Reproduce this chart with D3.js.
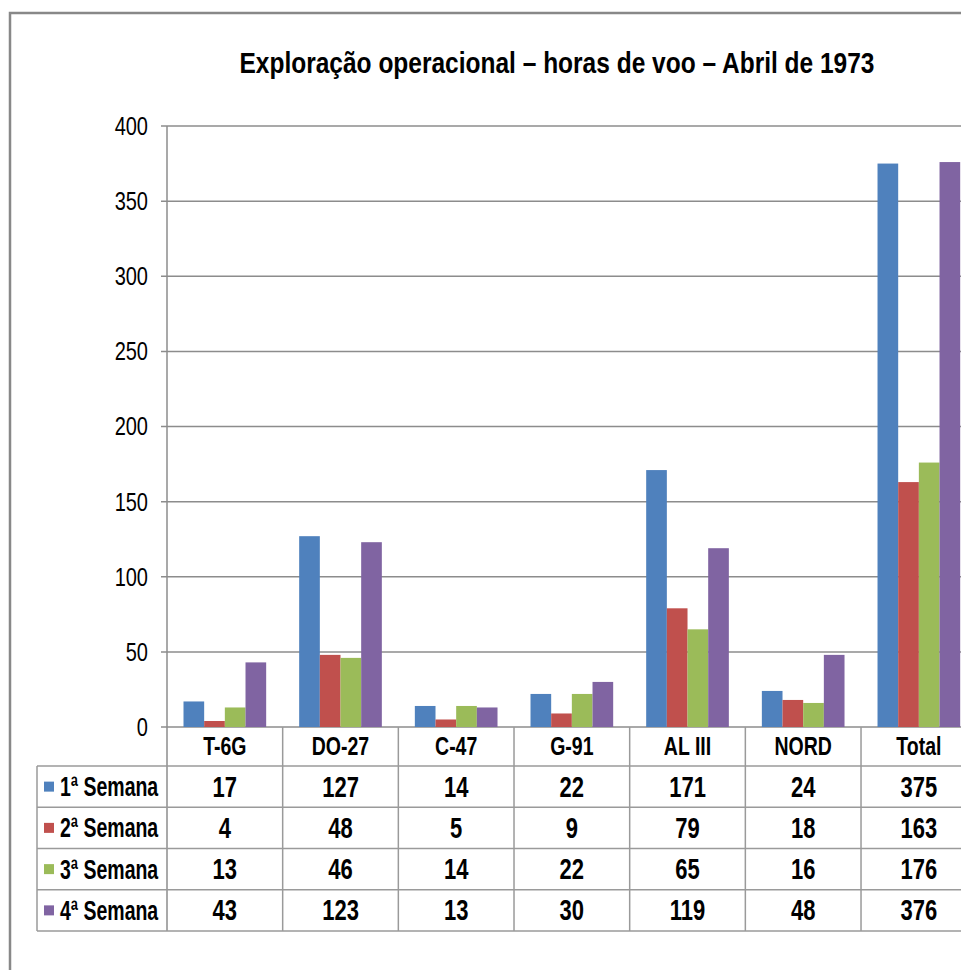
<!DOCTYPE html>
<html>

<head>
    <meta charset="UTF-8">
    <title>Exploração operacional</title>
    <script src="https://d3js.org/d3.v7.min.js"></script>
    <style>
        body { margin: 0; background: #fff; }
        svg text { font-family: "Liberation Sans", Arial, sans-serif; fill: #000; }
    </style>
</head>

<body>
    <div id="chart"></div>
    <script type="text/javascript">
        const categories = ["T-6G", "DO-27", "C-47", "G-91", "AL III", "NORD", "Total"];
        const seriesNames = ["1ª Semana", "2ª Semana", "3ª Semana", "4ª Semana"];
        const semana1 = [17, 127, 14, 22, 171, 24, 375];
        const semana2 = [4, 48, 5, 9, 79, 18, 163];
        const semana3 = [13, 46, 14, 22, 65, 16, 176];
        const semana4 = [43, 123, 13, 30, 119, 48, 376];
        const yTicks = [0, 50, 100, 150, 200, 250, 300, 350, 400];
        const colors = ["#4F81BD", "#C0504D", "#9BBB59", "#8064A2"];

        const seriesValues = [semana1, semana2, semana3, semana4];

        const width = 961;
        const height = 970;
        const plotLeft = 167;
        const bandW = 115.67;
        const plotTop = 126;
        const plotBottom = 727;
        const rowTop = 766;
        const rowH = 41.25;
        const tableLeft = 37;

        // the picture is stretched upright, so text is drawn taller than wide
        function place(x, y, sy) {
            return "translate(" + x + "," + y + ") scale(1," + sy + ")";
        }

        const svg = d3.select("#chart")
            .append("svg")
            .attr("width", width)
            .attr("height", height);

        // outer frame (cut off on the right and bottom)
        svg.append("path")
            .attr("d", "M10," + height + "V13H" + width)
            .attr("fill", "none")
            .attr("stroke", "#888")
            .attr("stroke-width", 2.5);

        const x = d3.scaleBand()
            .domain(categories)
            .range([plotLeft, plotLeft + bandW * categories.length]);

        const xs = d3.scaleBand()
            .domain(d3.range(seriesNames.length))
            .range([16.5, bandW - 16.5]);

        const y = d3.scaleLinear()
            .domain([0, 400])
            .range([plotBottom, plotTop]);

        // gridlines
        svg.append("g")
            .selectAll("line")
            .data(yTicks)
            .join("line")
            .attr("x1", plotLeft - 6)
            .attr("x2", width)
            .attr("y1", d => y(d))
            .attr("y2", d => y(d))
            .attr("stroke", "#8c8c8c")
            .attr("stroke-width", 1.5);

        // y labels
        svg.append("g")
            .selectAll("text")
            .data(yTicks)
            .join("text")
            .attr("transform", d => place(148, y(d), 1.28))
            .attr("dy", "0.35em")
            .attr("text-anchor", "end")
            .style("font-size", "20px")
            .text(d => d);

        // bars
        const groups = svg.append("g")
            .selectAll("g")
            .data(categories)
            .join("g")
            .attr("transform", d => "translate(" + x(d) + ",0)");

        groups.selectAll("rect")
            .data((c, i) => seriesValues.map((s, j) => ({ j: j, v: s[i] })))
            .join("rect")
            .attr("x", d => xs(d.j))
            .attr("width", xs.bandwidth())
            .attr("y", d => y(d.v))
            .attr("height", d => y(0) - y(d.v))
            .attr("fill", d => colors[d.j]);

        // y axis line, runs on down as the table border
        svg.append("line")
            .attr("x1", plotLeft).attr("x2", plotLeft)
            .attr("y1", plotTop).attr("y2", rowTop + rowH * 4)
            .attr("stroke", "#8c8c8c").attr("stroke-width", 1.5);

        // data table
        const table = svg.append("g");
        const lineColor = "#9a9a9a";

        table.selectAll("line.v")
            .data(categories)
            .join("line")
            .attr("class", "v")
            .attr("x1", d => x(d) + bandW)
            .attr("x2", d => x(d) + bandW)
            .attr("y1", plotBottom)
            .attr("y2", rowTop + rowH * 4)
            .attr("stroke", lineColor).attr("stroke-width", 1.5);

        table.selectAll("line.h")
            .data(d3.range(5))
            .join("line")
            .attr("class", "h")
            .attr("x1", tableLeft)
            .attr("x2", width)
            .attr("y1", d => rowTop + d * rowH)
            .attr("y2", d => rowTop + d * rowH)
            .attr("stroke", lineColor).attr("stroke-width", 1.5);

        table.append("line")
            .attr("x1", tableLeft).attr("x2", tableLeft)
            .attr("y1", rowTop).attr("y2", rowTop + rowH * 4)
            .attr("stroke", lineColor).attr("stroke-width", 1.5);

        // category labels
        table.selectAll("text.cat")
            .data(categories)
            .join("text")
            .attr("class", "cat")
            .attr("transform", d => place(x(d) + bandW / 2, (plotBottom + rowTop) / 2, 1.3))
            .attr("dy", "0.35em")
            .attr("text-anchor", "middle")
            .style("font-size", "19.5px")
            .style("font-weight", "bold")
            .text(d => d);

        // rows
        const rows = table.selectAll("g.row")
            .data(seriesNames)
            .join("g")
            .attr("class", "row")
            .attr("transform", (d, i) => "translate(0," + (rowTop + i * rowH + rowH / 2) + ")");

        rows.append("rect")
            .attr("x", 44)
            .attr("y", -5)
            .attr("width", 10)
            .attr("height", 10)
            .attr("fill", (d, i) => colors[i]);

        rows.append("text")
            .attr("transform", place(60, 0, 1.38))
            .attr("dy", "0.35em")
            .style("font-size", "19.5px")
            .style("font-weight", "bold")
            .text(d => d);

        rows.selectAll("text.val")
            .data((d, i) => seriesValues[i].map((v, k) => ({ v: v, c: categories[k] })))
            .join("text")
            .attr("class", "val")
            .attr("transform", d => place(x(d.c) + bandW / 2, 0, 1.3))
            .attr("dy", "0.35em")
            .attr("text-anchor", "middle")
            .style("font-size", "22px")
            .style("font-weight", "bold")
            .text(d => d.v);

        // title
        svg.append("text")
            .attr("transform", place(557, 73, 1.2))
            .attr("text-anchor", "middle")
            .attr("textLength", 635)
            .attr("lengthAdjust", "spacingAndGlyphs")
            .style("font-size", "24px")
            .style("font-weight", "bold")
            .text("Exploração operacional – horas de voo – Abril de 1973");
    </script>
</body>

</html>
